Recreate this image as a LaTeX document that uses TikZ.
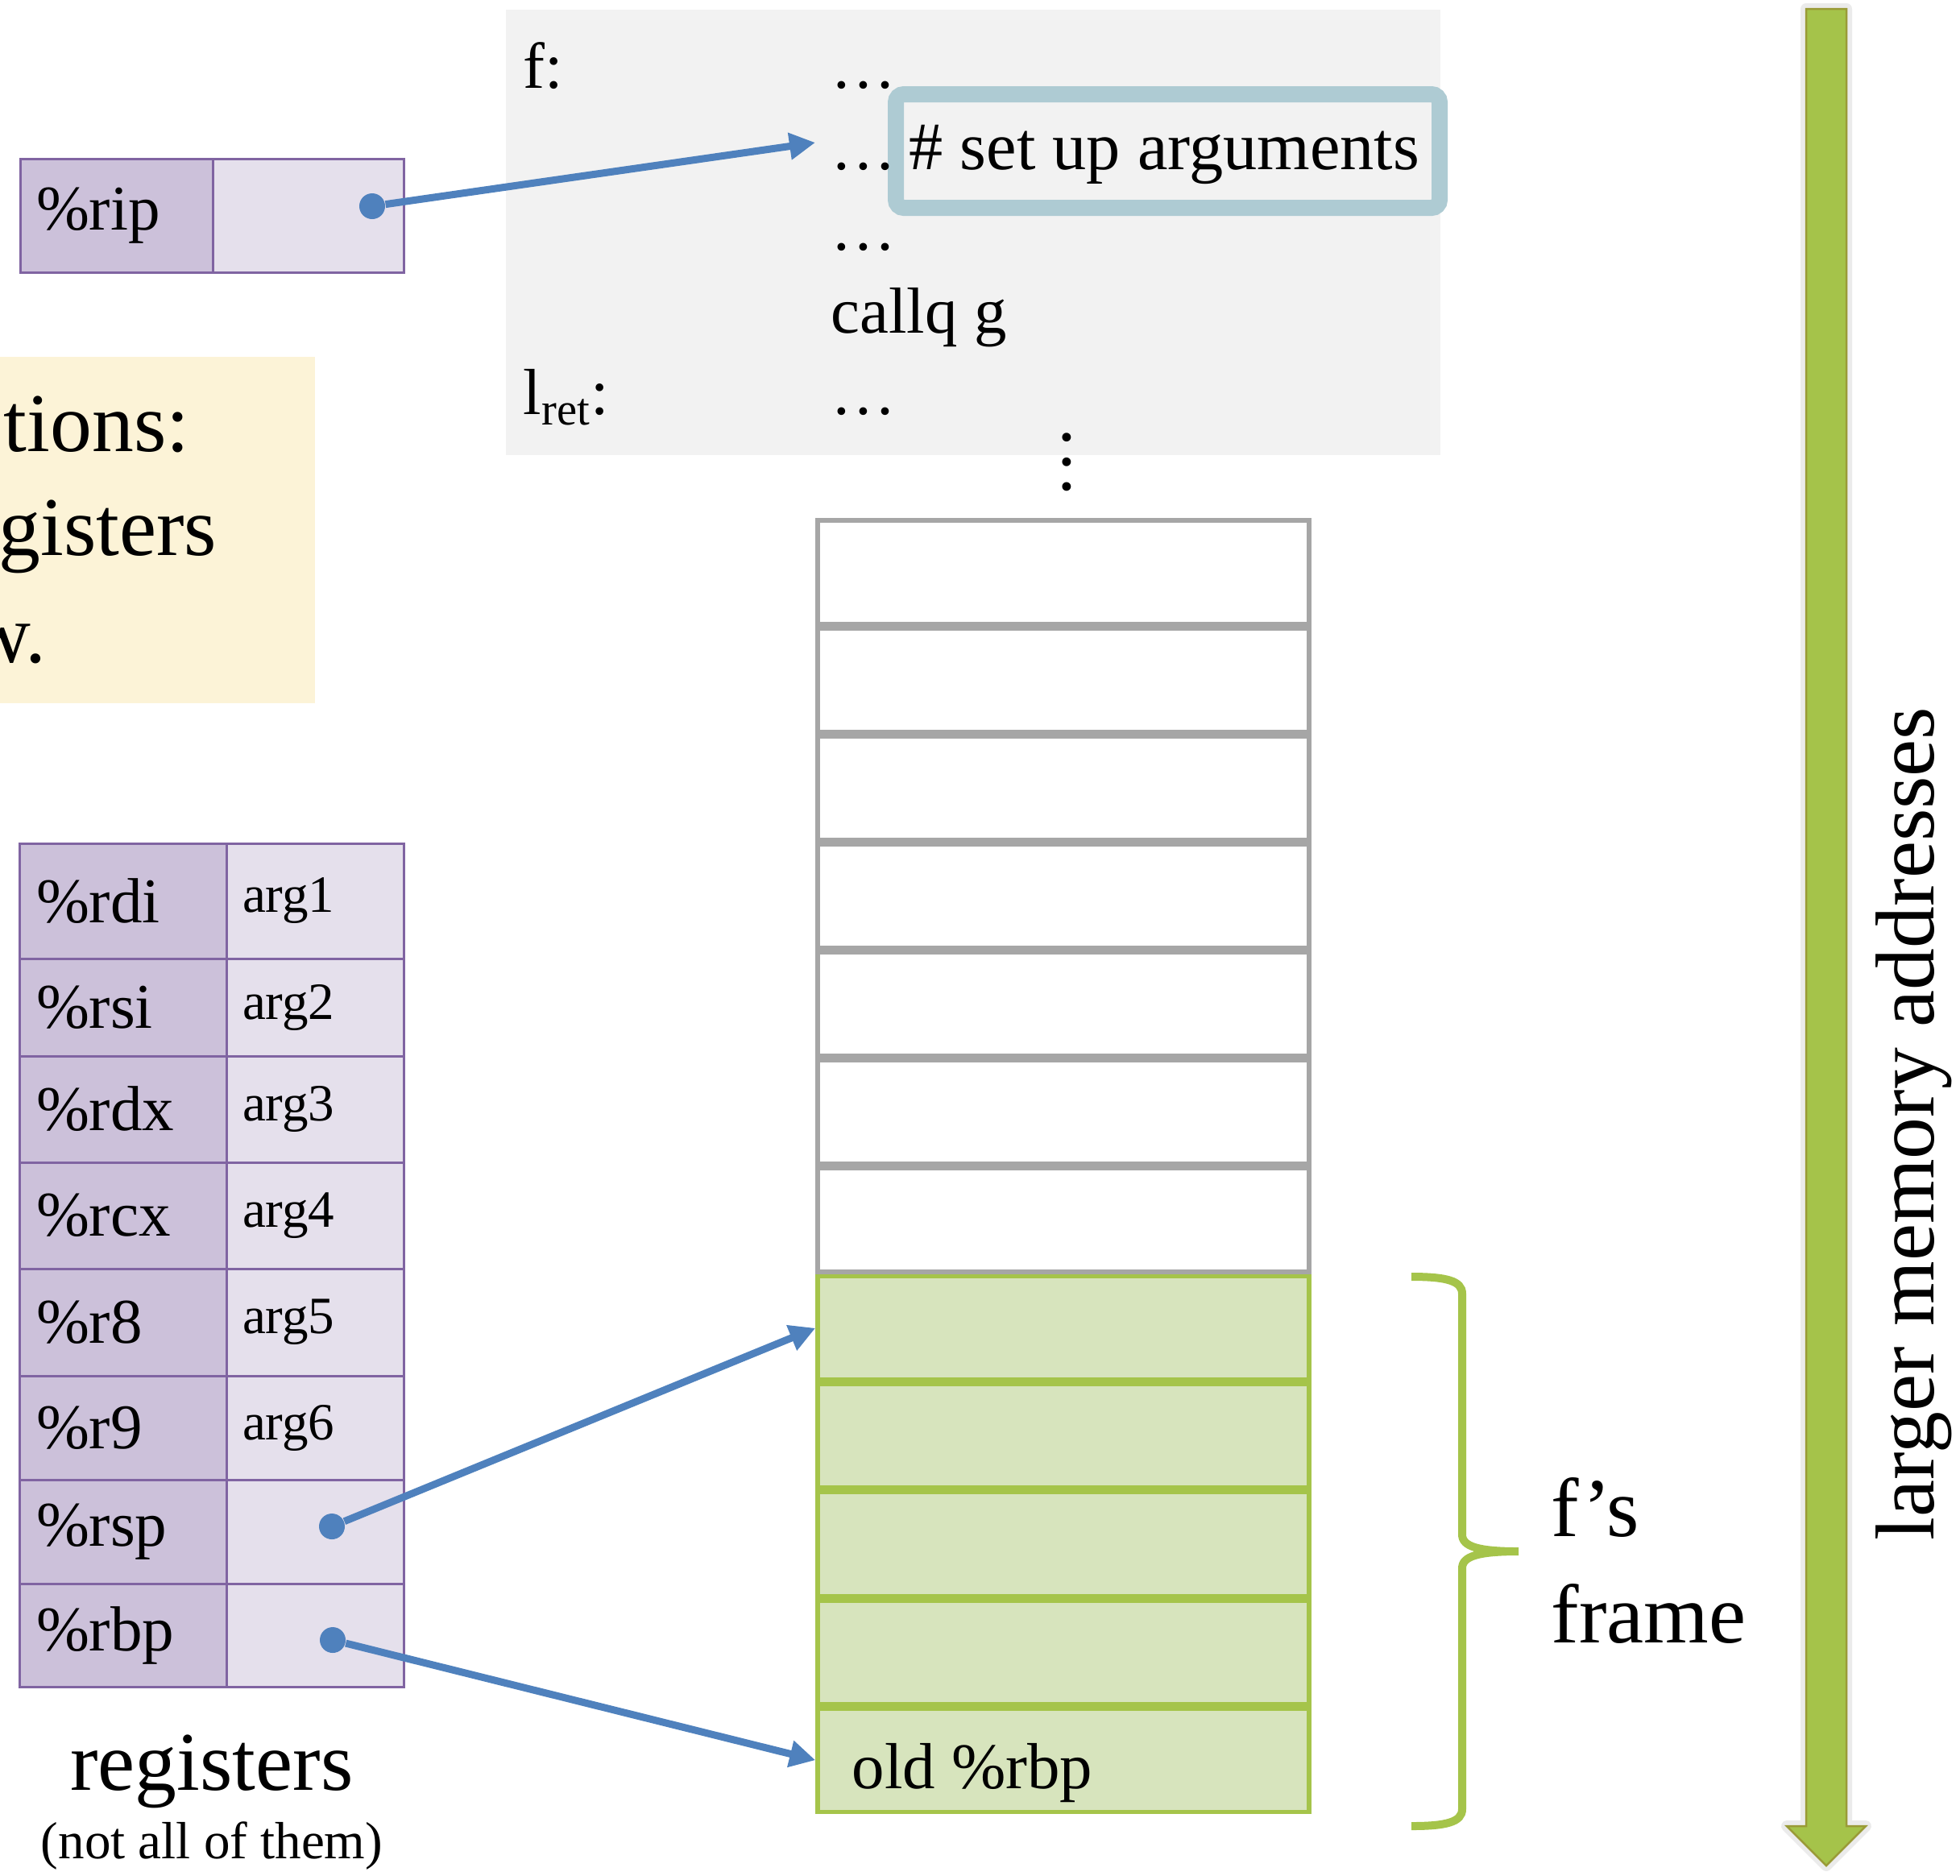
\documentclass[tikz,border=0pt]{standalone}
\usepackage{fontspec}
\setmainfont{Liberation Serif}
\usepackage{xcolor}
\usepackage{tikz}
\usetikzlibrary{positioning,arrows.meta,calc}
\definecolor{codebg}{HTML}{F2F2F2}
\definecolor{hlblue}{HTML}{AECBD3}
\definecolor{regdark}{HTML}{CCC1DA}
\definecolor{reglight}{HTML}{E5E0EC}
\definecolor{regline}{HTML}{8064A2}
\definecolor{notebg}{HTML}{FCF3D7}
\definecolor{slotgray}{HTML}{A6A6A6}
\definecolor{framefill}{HTML}{D7E4BD}
\definecolor{framegreen}{HTML}{A5C44A}
\definecolor{arrowgreen}{HTML}{A5C34A}
\definecolor{arrowolive}{HTML}{9A9B37}
\definecolor{ptrblue}{HTML}{4F81BD}
\newcommand{\codefont}{\fontsize{23}{28}\selectfont}
\newcommand{\regfont}{\fontsize{22.5}{27}\selectfont}
\newcommand{\argfont}{\fontsize{18.5}{22}\selectfont}
\newcommand{\bigfont}{\fontsize{29.5}{37.5}\selectfont}
\newcommand{\notefont}{\fontsize{29.5}{36}\selectfont}

\begin{document}
\begin{tikzpicture}[>=Stealth,
  regname/.style={draw=regline,fill=regdark,line width=0.3mm,inner xsep=2mm,inner ysep=0pt,
    text width=2.16cm,align=left,minimum height=#1,font=\regfont},
  regname/.default=1.32cm,
  regval/.style={regname=#1,fill=reglight,text width=1.80cm,font=\argfont},
  regval/.default=1.32cm,
  slot/.style={draw=slotgray,line width=0.55mm,minimum width=6.10cm,minimum height=1.286cm,inner sep=0pt},
  frameslot/.style={slot,draw=framegreen,fill=framefill},
  codeline/.style={anchor=base west,inner sep=0pt,font=\codefont},
  ptrdot/.style={circle,fill=ptrblue,minimum size=3.2mm,inner sep=0pt},
  ptr/.style={draw=ptrblue,line width=0.9mm,-{Triangle[length=3.2mm,width=3.2mm]}}]
\useasboundingbox (0,0) rectangle (24.33,-23.28);
\clip (0,0) rectangle (24.33,-23.28);
% code of f
\node[fill=codebg,minimum width=11.60cm,minimum height=5.53cm,inner sep=0pt] (code) at (12.08,-2.885) {};
\node[draw=hlblue,line width=2mm,rounded corners=1mm,minimum width=6.75cm,minimum height=1.41cm,inner sep=0pt] (setup) at (14.495,-1.875) {};
\node[codeline] (flab) at (6.49,-1.09) {f:};
\node[codeline] (c1) at (10.31,-1.09) {…};
\node[codeline] (c2) at (10.31,-2.10) {…};
\node[codeline,font=\fontsize{24}{29}\selectfont] (cmt) at (11.28,-2.10) {\# set up arguments};
\node[codeline] (c3) at (10.31,-3.10) {…};
\node[codeline] (call) at (10.31,-4.13) {callq g};
\node[codeline] (retlab) at (6.49,-5.14) {l\textsubscript{ret}:};
\node[codeline] (c5) at (10.31,-5.14) {…};
\node[rotate=90,inner sep=0pt,font=\fontsize{26}{30}\selectfont] (vdots) at (13.24,-5.74) {…};
% instruction pointer
\node[regname=1.41cm,text width=1.99cm] (rip) at (1.445,-2.675) {\%rip};
\node[regval=1.41cm,text width=1.97cm] (ripv) at (3.825,-2.675) {};
\node[ptrdot] (ripdot) at (4.62,-2.56) {};
\coordinate (riptgt) at (10.12,-1.77);
\draw[ptr] (ripdot) -- (riptgt);
% note (cut off at the left)
\node[fill=notebg,minimum width=3.91cm,minimum height=4.30cm,inner sep=0pt] (note) at (1.955,-6.58) {};
\node[anchor=base east,inner sep=0pt,font=\notefont] (note1) at (2.36,-5.60) {tions:};
\node[anchor=base east,inner sep=0pt,font=\notefont] (note2) at (2.70,-6.89) {gisters};
\node[anchor=base east,inner sep=0pt,font=\notefont] (note3) at (0.58,-8.22) {w.};
% registers
\node[regname=1.43cm] (rdi) at (1.53,-11.185) {\%rdi};
\node[regval=1.43cm] (rdiv) at (3.91,-11.185) {arg1};
\node[regname=1.21cm] (rsi) at (1.53,-12.505) {\%rsi};
\node[regval=1.21cm] (rsiv) at (3.91,-12.505) {arg2};
\node[regname] (rdx) at (1.53,-13.77) {\%rdx};
\node[regval] (rdxv) at (3.91,-13.77) {arg3};
\node[regname] (rcx) at (1.53,-15.09) {\%rcx};
\node[regval] (rcxv) at (3.91,-15.09) {arg4};
\node[regname=1.33cm] (r8) at (1.53,-16.415) {\%r8};
\node[regval=1.33cm] (r8v) at (3.91,-16.415) {arg5};
\node[regname=1.29cm] (r9) at (1.53,-17.725) {\%r9};
\node[regval=1.29cm] (r9v) at (3.91,-17.725) {arg6};
\node[regname=1.29cm] (rsp) at (1.53,-19.015) {\%rsp};
\node[regval=1.29cm] (rspv) at (3.91,-19.015) {};
\node[regname=1.28cm] (rbp) at (1.53,-20.30) {\%rbp};
\node[regval=1.28cm] (rbpv) at (3.91,-20.30) {};
\node[anchor=base,inner sep=0pt,font=\bigfont] (reglab) at (2.63,-22.22) {registers};
\node[anchor=base,inner sep=0pt,font=\fontsize{18.5}{22}\selectfont] (regnote) at (2.63,-23.07) {(not all of them)};
% stack
\node[slot] (s1) at (13.20,-7.1005) {};
\node[slot] (s2) at (13.20,-8.4415) {};
\node[slot] (s3) at (13.20,-9.7825) {};
\node[slot] (s4) at (13.20,-11.1235) {};
\node[slot] (s5) at (13.20,-12.4645) {};
\node[slot] (s6) at (13.20,-13.8055) {};
\node[slot] (s7) at (13.20,-15.1465) {};
\node[frameslot] (s8) at (13.20,-16.4875) {};
\node[frameslot] (s9) at (13.20,-17.8285) {};
\node[frameslot] (s10) at (13.20,-19.1695) {};
\node[frameslot] (s11) at (13.20,-20.5105) {};
\node[frameslot] (s12) at (13.20,-21.8515) {};
\node[codeline] (oldrbp) at (10.57,-22.20) {old \%rbp};
\node[ptrdot] (rspdot) at (4.12,-18.95) {};
\node[ptrdot] (rbpdot) at (4.13,-20.36) {};
\draw[ptr] (rspdot) -- (s8.west);
\draw[ptr] (rbpdot) -- (s12.west);
% frame brace
\draw[framegreen,line width=1mm] (17.52,-15.85) .. controls (17.95,-15.85) and (18.15,-15.90) .. (18.15,-16.06)
  -- (18.15,-19.05) .. controls (18.15,-19.20) and (18.35,-19.26) .. (18.85,-19.26)
  .. controls (18.35,-19.26) and (18.15,-19.32) .. (18.15,-19.47)
  -- (18.15,-22.46) .. controls (18.15,-22.62) and (17.95,-22.67) .. (17.52,-22.67);
\node[anchor=base west,inner sep=0pt,align=left,font=\bigfont] (framelab) at (19.25,-20.39) {f’s\\frame};
% address direction
\draw[black,opacity=0.08,line width=1.4mm,line join=round] (22.42,-0.11) -- (22.92,-0.11) -- (22.92,-22.67) -- (23.16,-22.67)
  -- (22.67,-23.16) -- (22.18,-22.67) -- (22.42,-22.67) -- cycle;
\draw[arrowolive,fill=arrowgreen,line width=0.25mm] (22.42,-0.11) -- (22.92,-0.11) -- (22.92,-22.67) -- (23.16,-22.67)
  -- (22.67,-23.16) -- (22.18,-22.67) -- (22.42,-22.67) -- cycle;
\node[rotate=90,anchor=base,inner sep=0pt,font=\bigfont] (addrlab) at (24.00,-13.95) {larger memory addresses};
\end{tikzpicture}
\end{document}
